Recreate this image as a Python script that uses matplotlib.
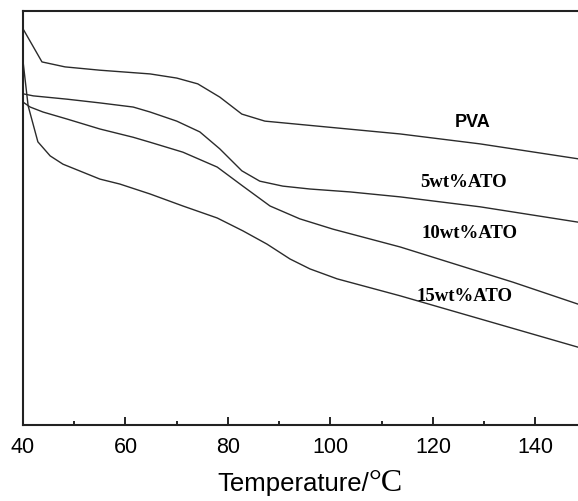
import matplotlib
matplotlib.use("Agg")
import matplotlib.pyplot as plt

# curves (relative weight, arbitrary units)
pva_t = [40.0, 43.7, 48.2, 55.0, 64.8, 70.0, 74.1, 78.4, 82.7, 87.2, 113.6, 129.2, 148.3]
pva_w = [95.7, 87.7, 86.5, 85.7, 84.8, 83.8, 82.4, 79.2, 75.1, 73.4, 70.3, 67.9, 64.3]

ato5_t = [40.0, 42.0, 48.6, 55.0, 61.5, 64.8, 70.0, 74.5, 78.4, 82.7, 86.2, 90.7, 96.0, 103.8, 113.6, 129.2, 148.3]
ato5_w = [80.0, 79.5, 78.7, 77.8, 76.8, 75.6, 73.4, 70.8, 66.7, 61.4, 58.9, 57.7, 57.0, 56.3, 55.1, 52.7, 49.0]

ato10_t = [40.0, 41.4, 43.9, 48.6, 55.0, 61.5, 64.8, 71.2, 77.9, 82.9, 88.2, 94.0, 100.5, 113.6, 135.6, 148.3]
ato10_w = [78.0, 76.8, 75.6, 73.9, 71.5, 69.5, 68.3, 65.9, 62.3, 57.7, 52.9, 49.8, 47.3, 43.0, 34.5, 29.2]

ato15_t = [40.0, 41.0, 42.9, 45.3, 47.8, 55.0, 58.9, 64.8, 71.2, 77.9, 82.9, 87.6, 92.1, 96.0, 101.3, 113.6, 148.3]
ato15_w = [87.9, 77.1, 68.4, 65.0, 63.0, 59.4, 58.2, 55.8, 52.9, 50.0, 46.9, 43.7, 40.1, 37.7, 35.3, 31.2, 18.8]

labels = ["PVA", "5wt%ATO", "10wt%ATO", "15wt%ATO"]
label_pos = [(127.8, 73.2), (125.9, 58.9), (127.2, 46.6), (126.2, 31.2)]

fig = plt.figure(figsize=(5.78, 5.02), dpi=100)
ax = fig.add_axes([0.0398, 0.1514, 0.9602, 0.8247])

for t, w in [(pva_t, pva_w), (ato5_t, ato5_w), (ato10_t, ato10_w), (ato15_t, ato15_w)]:
    ax.plot(t, w, color="#2b2b2b", lw=1.0)

# labels: PVA in sans, the rest in serif
ax.text(*label_pos[0], labels[0], ha="center", va="center", fontsize=13,
        fontweight="bold", family="Liberation Sans")
for lab, (x, y) in zip(labels[1:], label_pos[1:]):
    ax.text(x, y, lab, ha="center", va="center", fontsize=13.5,
            fontweight="bold", family="Liberation Serif")

ax.set_xlim(40, 148.3)
ax.set_ylim(0, 100)
ax.set_xticks([40, 60, 80, 100, 120, 140])
ax.set_xticks([50, 70, 90, 110, 130], minor=True)
ax.set_yticks([])
ax.tick_params(axis="x", which="major", direction="in", length=6, width=1.2,
               labelsize=15.5, pad=8)
ax.tick_params(axis="x", which="minor", direction="in", length=3, width=1.2)
for lab in ax.get_xticklabels():
    lab.set_family("Liberation Sans")

ax.spines["right"].set_visible(False)
for s in ["left", "top", "bottom"]:
    ax.spines[s].set_linewidth(1.5)
    ax.spines[s].set_color("#222222")

# x label: sans text with serif degree sign
fig.text(0.638, 0.022, "Temperature/", ha="right", va="baseline",
         fontsize=18.5, family="Liberation Sans")
fig.text(0.638, 0.022, "°C", ha="left", va="baseline",
         fontsize=23, family="Liberation Serif")

fig.savefig("out.png", dpi=100)
